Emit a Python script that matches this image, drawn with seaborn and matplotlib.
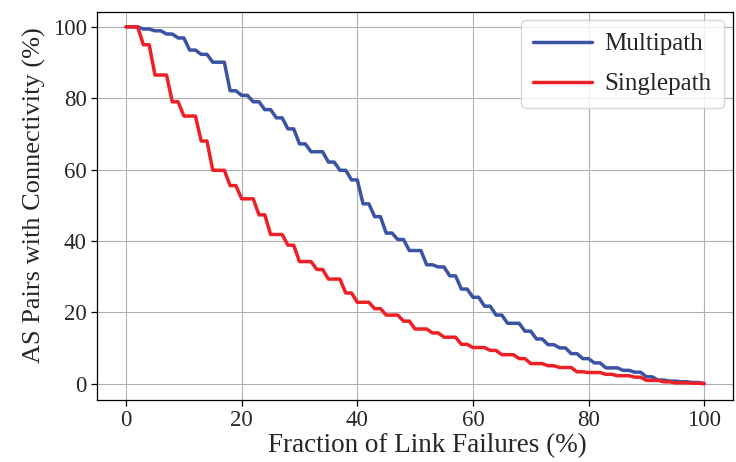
import numpy as np
import pandas as pd
import matplotlib
matplotlib.use("Agg")
import matplotlib.pyplot as plt
import seaborn as sns

# --- data: (start %, end %, connectivity %) for each plateau ---
multipath_steps = [
    (0, 2, 100), (3, 4, 99.4), (5, 6, 98.9), (7, 8, 98.0), (9, 10, 96.9),
    (11, 12, 93.5), (13, 14, 92.3), (15, 17, 90.1), (18, 19, 82.1), (20, 21, 80.8),
    (22, 23, 79.0), (24, 25, 76.8), (26, 27, 74.5), (28, 29, 71.4), (30, 31, 67.2),
    (32, 34, 65.0), (35, 36, 62.1), (37, 38, 59.8), (39, 40, 57.1), (41, 42, 50.4),
    (43, 44, 46.8), (45, 46, 42.2), (47, 48, 40.4), (49, 51, 37.3), (52, 53, 33.3),
    (54, 55, 32.7), (56, 57, 30.2), (58, 59, 26.5), (60, 61, 24.2), (62, 63, 21.7),
    (64, 65, 19.2), (66, 68, 16.9), (69, 70, 14.7), (71, 72, 12.5), (73, 74, 10.9),
    (75, 76, 10.0), (77, 78, 8.4), (79, 80, 7.0), (81, 82, 5.8), (83, 85, 4.4),
    (86, 87, 3.7), (88, 89, 3.2), (90, 91, 1.9), (92, 93, 1.0), (94, 95, 0.7),
    (96, 97, 0.5), (98, 99, 0.3), (100, 100, 0.0),
]
singlepath_steps = [
    (0, 2, 100), (3, 4, 95.0), (5, 7, 86.5), (8, 9, 79.0), (10, 12, 75.0),
    (13, 14, 68.0), (15, 17, 59.8), (18, 19, 55.5), (20, 22, 51.8), (23, 24, 47.3),
    (25, 27, 41.8), (28, 29, 38.8), (30, 32, 34.2), (33, 34, 32.0), (35, 37, 29.3),
    (38, 39, 25.4), (40, 42, 22.8), (43, 44, 21.0), (45, 47, 19.2), (48, 49, 17.5),
    (50, 52, 15.3), (53, 54, 14.2), (55, 57, 13.0), (58, 59, 11.0), (60, 62, 10.1),
    (63, 64, 9.3), (65, 67, 8.1), (68, 69, 7.0), (70, 72, 5.6), (73, 74, 5.0),
    (75, 77, 4.5), (78, 79, 3.3), (80, 82, 3.1), (83, 84, 2.6), (85, 87, 2.2),
    (88, 89, 1.8), (90, 92, 0.9), (93, 94, 0.5), (95, 97, 0.2), (98, 99, 0.1),
    (100, 100, 0.0),
]
series_names = ["Multipath", "Singlepath"]
series_colors = ["#3a53a4", "#ee1f25"]


def to_frame(steps, name):
    xs, ys = [], []
    for x0, x1, level in steps:
        xs += [x0, x1]
        ys += [level, level]
    return pd.DataFrame({"x": xs, "y": ys, "series": name})


df = pd.concat([to_frame(multipath_steps, series_names[0]),
                to_frame(singlepath_steps, series_names[1])], ignore_index=True)

sns.set_style("whitegrid")
plt.rcParams["font.family"] = ["Liberation Serif", "DejaVu Serif"]

fig, ax = plt.subplots(figsize=(7.36, 4.62), dpi=100)
sns.lineplot(data=df, x="x", y="y", hue="series", palette=series_colors,
             sort=False, estimator=None, linewidth=2.5, ax=ax)

ax.grid(True, color="#b0b0b0", linewidth=0.8)
for s in ax.spines.values():
    s.set_color("black")
    s.set_linewidth(0.9)
ax.tick_params(axis="both", which="major", direction="out", length=4,
               width=0.9, color="black", labelsize=16.5, left=True, bottom=True)
ax.set_xticks([0, 20, 40, 60, 80, 100])
ax.set_yticks([0, 20, 40, 60, 80, 100])
ax.set_xlim(-5, 105)
ax.set_ylim(-4.5, 104.3)
ax.set_xlabel("Fraction of Link Failures (%)", fontsize=19.5)
ax.set_ylabel("AS Pairs with Connectivity (%)", fontsize=19)
ax.xaxis.set_label_coords(0.52, -0.085)
ax.yaxis.set_label_coords(-0.08, 0.527)
ax.legend(title=None, fontsize=18, loc="upper right", frameon=True,
          handlelength=2.35, handletextpad=0.5, borderpad=0.5, labelspacing=0.7,
          borderaxespad=0.35)

plt.subplots_adjust(left=0.132, right=0.996, top=0.975, bottom=0.135)
plt.savefig("out.png", dpi=100)
